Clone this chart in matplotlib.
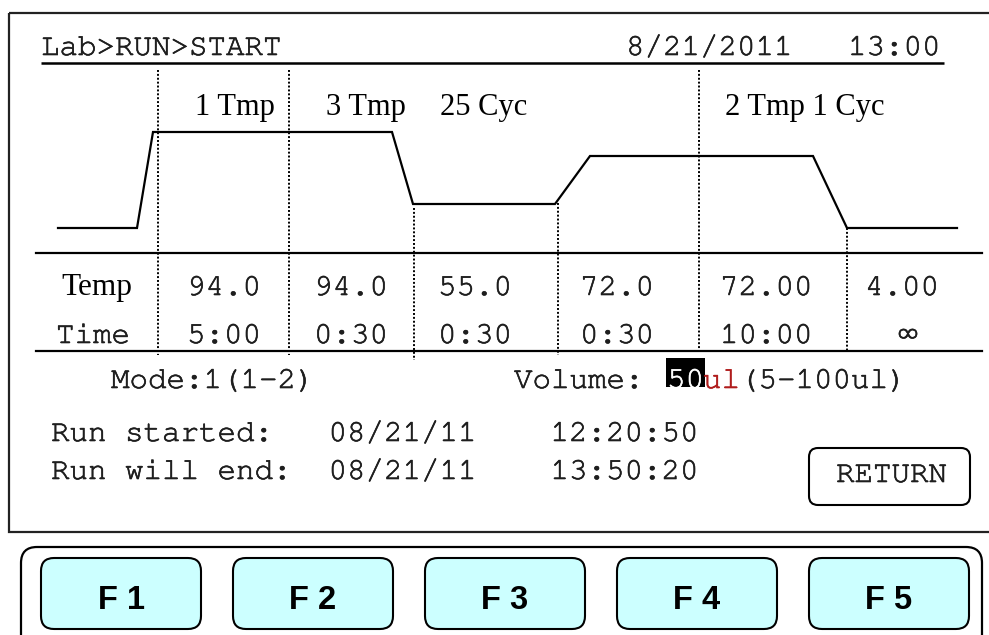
import matplotlib
matplotlib.use("Agg")
import matplotlib.pyplot as plt
from matplotlib.patches import Rectangle, FancyBboxPatch
from matplotlib import font_manager
import matplotlib.patheffects as pe

# ---------------- data ----------------
header_left = "Lab>RUN>START"
header_right = "8/21/2011   13:00"
step_labels = ["1 Tmp", "3 Tmp", "25 Cyc", "2 Tmp 1 Cyc"]
temps = ["94.0", "94.0", "55.0", "72.0", "72.00", "4.00"]
times = ["5:00", "0:30", "0:30", "0:30", "10:00", "\u221e"]
mode_text = "Mode:1(1-2)"
volume_label = "Volume: "
volume_value = "50"
volume_unit = "ul"
volume_range = "(5-100ul)"
run_started = "Run started:   08/21/11    12:20:50"
run_end = "Run will end:  08/21/11    13:50:20"
button_labels = ["F 1", "F 2", "F 3", "F 4", "F 5"]
return_label = "RETURN"
# temperature profile schematic (screen units)
profile_x = [58, 137, 153, 392, 413, 555, 590, 813, 847, 957]
profile_y = [228, 228, 132, 132, 204, 204, 156, 156, 228, 228]

# ---------------- fonts ----------------
available = {f.name for f in font_manager.fontManager.ttflist}
mono_first = None
for cand in ["Courier New", "Nimbus Mono PS", "Nimbus Mono L", "FreeMono", "Courier 10 Pitch", "Courier"]:
    if cand in available:
        mono_first = cand
        break
MONO = ([mono_first] if mono_first else []) + ["Liberation Mono", "DejaVu Sans Mono"]
SERIF = ["Liberation Serif", "DejaVu Serif"]
SANS = ["Liberation Sans", "DejaVu Sans"]
FS = 22.2
CW = 18.5  # mono char advance in px
TXT = "#1e1e1e" if mono_first else "#3c3c3c"
STROKE = 0.45 if mono_first else 0.0

# ---------------- layout ----------------
W, H = 989, 635
fig = plt.figure(figsize=(W / 100, H / 100), dpi=100)
ax = fig.add_axes([0, 0, 1, 1])
ax.set_xlim(0, W)
ax.set_ylim(H, 0)
ax.axis("off")


def mono(x, y, s, color=TXT, ha="left"):
    t = ax.text(x, y, s, family=MONO, fontsize=FS, va="baseline", ha=ha, color=color)
    if STROKE > 0:
        t.set_path_effects([pe.withStroke(linewidth=STROKE, foreground=color)])


# screen frame
ax.add_patch(Rectangle((9, 13), 1100, 532 - 13, fill=False, ec="#222222", lw=1.6))

# header
mono(41, 55, header_left)
mono(626, 55, header_right)
ax.plot([41, 944], [63, 63], color="black", lw=1.8, solid_capstyle="butt")

# dotted vertical separators
vlines_x = [158, 289, 414, 558, 699, 847]
vlines_top = [70, 70, 208, 203, 70, 228]
vlines_bot = [355, 355, 360, 355, 352, 352]
for x, t, b in zip(vlines_x, vlines_top, vlines_bot):
    ax.plot([x, x], [t, b], color="black", lw=1.4, linestyle=(0, (1, 1)))

# step labels
step_x = [195, 326, 440, 725]
for x, s in zip(step_x, step_labels):
    ax.text(x, 115, s, family=SERIF, fontsize=22, va="baseline", ha="left", color="black")

# profile line
ax.plot(profile_x, profile_y, color="black", lw=1.6, solid_joinstyle="miter")

# table lines
ax.plot([36, 982], [253, 253], color="black", lw=1.6)
ax.plot([36, 982], [351, 351], color="black", lw=1.6)

# table rows
ax.text(61, 295, "Temp", family=SERIF, fontsize=22.5, va="baseline", ha="left", color="black")
mono(56, 343, "Time")
col_x = [187, 314, 438, 580, 720, 865]
for x, t in zip(col_x, temps):
    mono(x, 295, t)
for x, t in zip(col_x, times):
    if t == "\u221e":
        mono(908, 343, t, ha="center")
    else:
        mono(x, 343, t)

# mode / volume
mono(111, 388, mode_text)
vx = 514
mono(vx, 388, volume_label)
bx = vx + len(volume_label) * CW + 4
ax.add_patch(Rectangle((bx, 358), 39, 29, color="black", lw=0))
mono(bx + 1, 388, volume_value, color="white")
ux = bx + 2 * CW
mono(ux, 388, volume_unit, color="#b01c1c")
mono(ux + 2 * CW, 388, volume_range)

# run times
mono(51, 441, run_started)
mono(51, 479, run_end)

# RETURN button
ax.add_patch(FancyBboxPatch((809, 448), 161, 57, boxstyle="round,pad=0,rounding_size=9",
                            fc="white", ec="black", lw=1.5))
mono(836, 482, return_label)

# bottom panel
ax.add_patch(FancyBboxPatch((21, 547), 961, 120, boxstyle="round,pad=0,rounding_size=16",
                            fc="white", ec="black", lw=1.6))
btn_left = [41, 233, 425, 617, 809]
for x, lab in zip(btn_left, button_labels):
    ax.add_patch(FancyBboxPatch((x, 558), 160, 71, boxstyle="round,pad=0,rounding_size=13",
                                fc="#ccffff", ec="black", lw=1.5))
    ax.text(x + 80, 609, lab, family=SANS, fontsize=23.5, fontweight="bold",
            va="baseline", ha="center", color="black")

fig.savefig("out.png", dpi=100)
